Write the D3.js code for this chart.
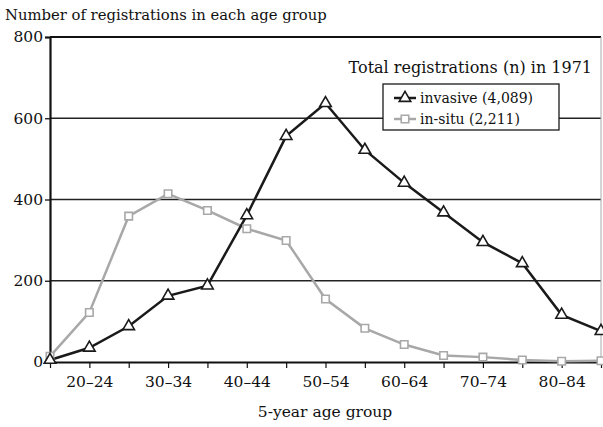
<!DOCTYPE html>
<html><head><meta charset="utf-8">
<script src="https://cdn.jsdelivr.net/npm/d3@7"></script>
<style>body{margin:0;background:#fff}svg{display:block}text{font-family:"DejaVu Serif",serif;fill:#111}</style>
</head><body>
<svg id="c" width="603" height="427"></svg>
<script>
const categories = ["15–19","20–24","25–29","30–34","35–39","40–44","45–49","50–54","55–59","60–64","65–69","70–74","75–79","80–84","85+"];
const invasive = [5, 35, 88, 163, 188, 361, 556, 637, 522, 441, 368, 295, 243, 116, 76];
const inSitu = [14, 122, 359, 414, 373, 328, 299, 155, 83, 43, 16, 12, 5, 2, 3];
const yTicks = [0, 200, 400, 600, 800];
const xLabels = ["20–24","30–34","40–44","50–54","60–64","70–74","80–84"];

const svg = d3.select("#c");
const x = d3.scalePoint().domain(categories).range([50, 601]);
const y = d3.scaleLinear().domain([0, 800]).range([362, 37]);

// gridlines
svg.append("g").selectAll("line").data([200,400,600]).join("line")
  .attr("x1", 50).attr("x2", 601).attr("y1", d => y(d)).attr("y2", d => y(d))
  .attr("stroke", "#222").attr("stroke-width", 1.3);
// top line
svg.append("line").attr("x1", 50).attr("x2", 601).attr("y1", y(800)).attr("y2", y(800))
  .attr("stroke", "#111").attr("stroke-width", 2.2);
// right border
svg.append("line").attr("x1", 601).attr("x2", 601).attr("y1", y(800)).attr("y2", y(0))
  .attr("stroke", "#aaa").attr("stroke-width", 1);

// y axis
const yAxis = d3.axisLeft(y).tickValues(yTicks).tickSize(5).tickFormat(d3.format("d"));
const gy = svg.append("g").attr("transform", "translate(50,0)").call(yAxis);
gy.select(".domain").attr("stroke", "#111").attr("stroke-width", 2.2);
gy.selectAll(".tick line").attr("stroke", "#111").attr("stroke-width", 1.3);
gy.selectAll(".tick text").attr("font-size", 15.5).attr("font-family", "DejaVu Serif").attr("fill", "#111").attr("x", -7);

// x axis
const xAxis = d3.axisBottom(x).tickSize(6).tickSizeOuter(0)
  .tickFormat(d => xLabels.includes(d) ? d : "");
const gx = svg.append("g").attr("transform", `translate(0,${y(0)})`).call(xAxis);
gx.select(".domain").attr("stroke", "#111").attr("stroke-width", 2.2);
gx.selectAll(".tick line").attr("stroke", "#111").attr("stroke-width", 1.2);
gx.selectAll(".tick text").attr("font-size", 15.5).attr("font-family", "DejaVu Serif").attr("fill", "#111").attr("dy", "1.05em");

// lines
const line = d3.line().x((d, i) => x(categories[i])).y(d => y(d));
svg.append("path").datum(inSitu).attr("d", line).attr("fill", "none").attr("stroke", "#a8a8a8").attr("stroke-width", 2.5);
svg.append("path").datum(invasive).attr("d", line).attr("fill", "none").attr("stroke", "#1a1a1a").attr("stroke-width", 2.5);

const sq = d3.symbol().type(d3.symbolSquare).size(56);
const tri = d3.symbol().type(d3.symbolTriangle).size(58);
svg.append("g").selectAll("path").data(inSitu).join("path")
  .attr("d", sq).attr("transform", (d, i) => `translate(${x(categories[i])},${y(d)})`)
  .attr("fill", "#fff").attr("stroke", "#a8a8a8").attr("stroke-width", 1.6);
svg.append("g").selectAll("path").data(invasive).join("path")
  .attr("d", tri).attr("transform", (d, i) => `translate(${x(categories[i])},${y(d)})`)
  .attr("fill", "#fff").attr("stroke", "#1a1a1a").attr("stroke-width", 1.6);

// titles
svg.append("text").attr("x", 5).attr("y", 20).attr("font-size", 14.8).text("Number of registrations in each age group");
svg.append("text").attr("x", 325).attr("y", 417).attr("text-anchor", "middle").attr("font-size", 15.5).text("5-year age group");

// legend
svg.append("text").attr("x", 592).attr("y", 73).attr("text-anchor", "end").attr("font-size", 16).text("Total registrations (n) in 1971");
svg.append("rect").attr("x", 383).attr("y", 84).attr("width", 176).attr("height", 46)
  .attr("fill", "#fff").attr("stroke", "#1a1a1a").attr("stroke-width", 1.3);
const leg = [{name: "invasive (4,089)", color: "#1a1a1a", sym: tri}, {name: "in-situ (2,211)", color: "#a8a8a8", sym: sq}];
leg.forEach((l, i) => {
  const yy = 98 + i * 21;
  svg.append("line").attr("x1", 394).attr("x2", 416).attr("y1", yy).attr("y2", yy).attr("stroke", l.color).attr("stroke-width", 2.5);
  svg.append("path").attr("d", l.sym).attr("transform", `translate(405,${yy})`).attr("fill", "#fff").attr("stroke", l.color).attr("stroke-width", 1.6);
  svg.append("text").attr("x", 420).attr("y", yy + 5).attr("font-size", 14).text(l.name);
});
</script>
</body></html>
